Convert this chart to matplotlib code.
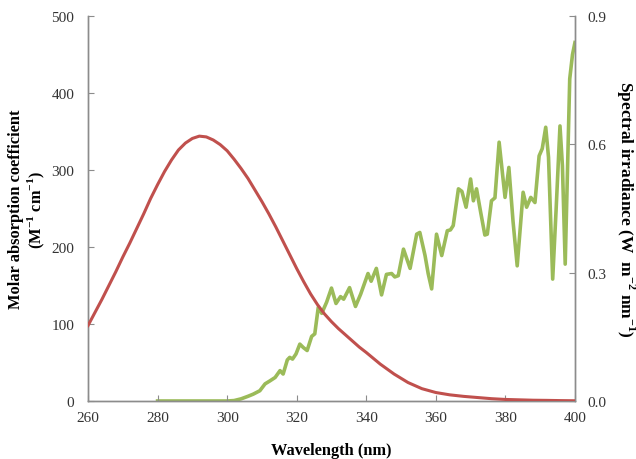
import matplotlib
matplotlib.use("Agg")
import matplotlib.pyplot as plt

# molar absorption coefficient (left axis)
abs_nm = [260, 262, 264, 266, 268, 270, 272, 274, 276, 278, 280, 282, 284, 286,
          288, 290, 292, 294, 296, 298, 300, 302, 304, 306, 308, 310, 312, 314,
          316, 318, 320, 322, 324, 326, 328, 330, 332, 334, 336, 338, 340, 344,
          348, 352, 356, 360, 364, 368, 372, 376, 380, 384, 388, 392, 396, 400]
abs_val = [98, 115, 132, 150, 168, 187, 205, 224, 243, 263, 281, 298, 313, 326,
           335, 341, 344, 343, 339, 333, 325, 314, 302, 289, 274, 259, 243, 226,
           208, 190, 172, 155, 139, 125, 113, 103, 94, 86, 78, 70, 63, 48,
           35, 24, 16, 11, 8, 6, 4.5, 3, 2, 1.5, 1, 0.8, 0.5, 0.3]

# solar spectral irradiance (right axis)
irr_nm = [280, 290, 300, 302, 304, 306, 307.5, 309.4, 310.9, 312.3, 313.8, 315.2,
          316.1, 317.3, 318, 318.8, 319.8, 320.9, 321.9, 323, 324.3, 325.2, 326.2,
          327.2, 328.6, 330, 331.3, 332.6, 333.5, 335.2, 336.9, 338.4, 340.5, 341.4,
          342.9, 344.4, 345.8, 347.3, 348.2, 349.2, 350.7, 352.6, 354.5, 355.4,
          356.9, 357.8, 358.8, 360.2, 361.7, 363.3, 364.2, 365, 366.5, 367.5,
          368.7, 370, 370.8, 371.7, 372.9, 374.1, 374.8, 376, 377, 378.2, 379.9,
          381, 382.2, 383.4, 385.1, 386.1, 387.3, 388.5, 389.7, 390.6, 391.6,
          392.4, 393.6, 394.6, 395.7, 396.4, 397.2, 398.5, 399.3, 400]
irr_val = [0, 0, 0, 0.001, 0.005, 0.011, 0.016, 0.024, 0.04, 0.047, 0.055, 0.071,
           0.063, 0.096, 0.102, 0.098, 0.11, 0.133, 0.125, 0.118, 0.151, 0.157, 0.219,
           0.205, 0.231, 0.264, 0.228, 0.244, 0.238, 0.265, 0.221, 0.25, 0.298, 0.28,
           0.31, 0.248, 0.296, 0.298, 0.29, 0.293, 0.355, 0.31, 0.39, 0.394,
           0.34, 0.298, 0.262, 0.39, 0.34, 0.398, 0.40, 0.41, 0.496, 0.49,
           0.453, 0.519, 0.468, 0.496, 0.441, 0.388, 0.39, 0.468, 0.475, 0.605, 0.476,
           0.546, 0.42, 0.316, 0.488, 0.453, 0.476, 0.464, 0.573, 0.59, 0.64,
           0.57, 0.285, 0.45, 0.643, 0.55, 0.32, 0.753, 0.81, 0.838]

x_ticks = [260, 280, 300, 320, 340, 360, 380, 400]
left_ticks = [0, 100, 200, 300, 400, 500]
right_ticks = [0.0, 0.3, 0.6, 0.9]

plt.rcParams['font.family'] = ['Liberation Serif', 'DejaVu Serif']
plt.rcParams['mathtext.fontset'] = 'custom'
plt.rcParams['mathtext.rm'] = 'Liberation Serif'
plt.rcParams['mathtext.bf'] = 'Liberation Serif:bold'

spine_col = '#8c8c8c'

fig = plt.figure(figsize=(6.36, 4.6), dpi=100)
ax = fig.add_axes([0.1384, 0.1261, 0.7656, 0.8369])
ax2 = ax.twinx()

ax.plot(abs_nm, abs_val, color='#C0504D', lw=2.2, solid_joinstyle='round', zorder=3)
ax2.plot(irr_nm, irr_val, color='#9BBB59', lw=2.6, solid_joinstyle='round')
ax.set_zorder(ax2.get_zorder() + 1)
ax.patch.set_visible(False)

ax.set_xlim(260, 400)
ax.set_ylim(0, 500)
ax2.set_ylim(0, 0.9)
ax.set_xticks(x_ticks)
ax.set_yticks(left_ticks)
ax2.set_yticks(right_ticks)
ax2.set_yticklabels(['%.1f' % t for t in right_ticks])

for a in (ax, ax2):
    a.spines['top'].set_visible(False)
    for s in ('left', 'right', 'bottom'):
        a.spines[s].set_color(spine_col)
        a.spines[s].set_linewidth(1.0)
ax.tick_params(axis='both', direction='in', length=4, color=spine_col,
               labelsize=11, colors='#333333')
ax.tick_params(axis='y', pad=10)
ax.tick_params(axis='x', pad=7)
ax2.tick_params(axis='y', direction='in', length=4, color=spine_col,
                labelsize=11, colors='#333333', pad=9)

ax.set_xlabel('Wavelength (nm)', fontsize=11.8, fontweight='bold')
ax.set_ylabel('Molar absorption coefficient\n(M$^{\\mathbf{-1}}$ cm$^{\\mathbf{-1}}$)',
              fontsize=11.8, fontweight='bold', linespacing=1.1)
ax2.set_ylabel('Spectral irradiance (W  m$^{\\mathbf{-2}}$ nm$^{\\mathbf{-1}}$)',
               fontsize=12.5, fontweight='bold', rotation=270)
ax.xaxis.label.set_va('center')
ax.yaxis.label.set_va('center')
ax2.yaxis.label.set_va('center')
ax.xaxis.set_label_coords(0.5, -0.126)
ax.yaxis.set_label_coords(-0.125, 0.5)
ax2.yaxis.set_label_coords(1.104, 0.5)

fig.savefig('out.png', dpi=100)
